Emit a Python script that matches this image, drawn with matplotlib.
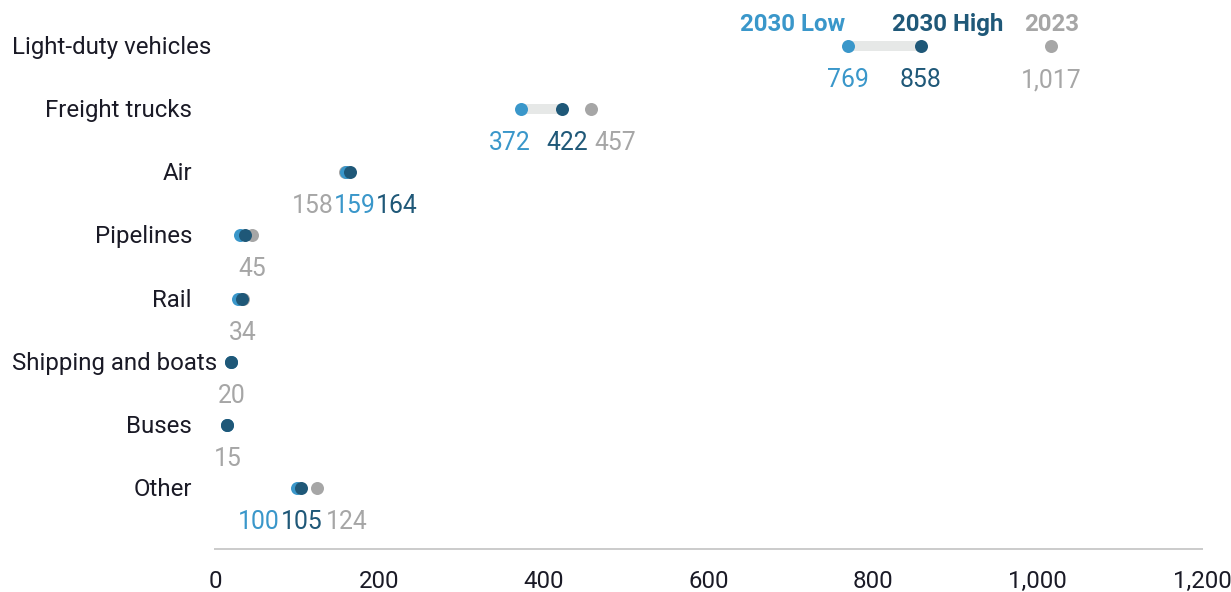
import matplotlib
matplotlib.use("Agg")
import matplotlib.pyplot as plt
from matplotlib.ticker import FuncFormatter

plt.rcParams['font.family'] = ['Roboto', 'DejaVu Sans']

categories = ["Light-duty vehicles", "Freight trucks", "Air", "Pipelines", "Rail",
              "Shipping and boats", "Buses", "Other"]
low_2030 = [769, 372, 159, 31, 28, 20, 15, 100]
high_2030 = [858, 422, 164, 36, 33, 20, 15, 105]
val_2023 = [1017, 457, 158, 45, 34, 20, 15, 124]
series_names = ["2030 Low", "2030 High", "2023"]
xticks = [0, 200, 400, 600, 800, 1000, 1200]

C_LOW = "#3a97ca"
C_HIGH = "#1f5878"
C_2023 = "#a6a6a6"
C_BAR = "#e6e8e7"
C_TEXT = "#1a1a26"

# label horizontal offsets in pixels (None = label hidden), order: low, high, 2023
label_dx = [
    (0, 0, 0),
    (-11, 5.5, 24),
    (9, 47, -32),
    (None, None, 0),
    (None, None, 0),
    (None, None, 0),
    (None, None, 0),
    (-38.5, 0, 30),
]

W, H, DPI = 1231, 592, 100
fig = plt.figure(figsize=(W / DPI, H / DPI), dpi=DPI)
ax = fig.add_axes([215 / W, (H - 549) / H, (1202 - 215) / W, 549 / H])

n = len(categories)
ys = list(range(n))
ax.set_xlim(0, 1200)
ax.set_ylim(7.966, -0.729)

px2pt = 72 / DPI
ms = 13 * px2pt

# connectors
ax.hlines(ys, low_2030, high_2030, color=C_BAR, linewidth=10 * px2pt, capstyle='butt', zorder=1)
ax.scatter(val_2023, ys, s=ms ** 2, color=C_2023, zorder=2, linewidths=0)
ax.scatter(low_2030, ys, s=ms ** 2, color=C_LOW, zorder=3, linewidths=0)
ax.scatter(high_2030, ys, s=ms ** 2, color=C_HIGH, zorder=4, linewidths=0)

fs = 17.3
fs_val = 17.8
colors = [C_LOW, C_HIGH, C_2023]
for i in range(n):
    vals = [low_2030[i], high_2030[i], val_2023[i]]
    for j in range(3):
        dx = label_dx[i][j]
        if dx is None:
            continue
        ax.annotate(f"{vals[j]:,}", (vals[j], i), xytext=(dx * px2pt, -34 * px2pt),
                    textcoords='offset points', ha='center', va='center',
                    fontsize=fs_val, color=colors[j], zorder=5)

# legend labels above first row
legend_dx = [-54.5, 26.5, 0]
first = [low_2030[0], high_2030[0], val_2023[0]]
for j in range(3):
    ax.annotate(series_names[j], (first[j], 0), xytext=(legend_dx[j] * px2pt, 22 * px2pt),
                textcoords='offset points', ha='center', va='center',
                fontsize=fs, fontweight='bold', color=colors[j])

# category labels
fig.canvas.draw()
renderer = fig.canvas.get_renderer()
for i, cat in enumerate(categories):
    t = fig.text(192 / W, 0, cat, ha='right', va='center', fontsize=fs, color=C_TEXT)
    ypix = ax.transData.transform((0, i))[1] - 1.5
    t.set_y(ypix / H)
    bb = t.get_window_extent(renderer)
    if bb.width > 182:
        t.set_ha('left')
        t.set_x(12 / W)

for s in ['top', 'right', 'left']:
    ax.spines[s].set_visible(False)
ax.spines['bottom'].set_color('#cccccc')
ax.spines['bottom'].set_linewidth(2 * px2pt)
ax.set_yticks([])
ax.set_xticks(xticks)
ax.xaxis.set_major_formatter(FuncFormatter(lambda v, p: f"{int(v):,}"))
ax.tick_params(axis='x', length=0, pad=15, labelsize=fs, labelcolor=C_TEXT)
ax.patch.set_alpha(0)

fig.savefig("out.png", dpi=DPI)
